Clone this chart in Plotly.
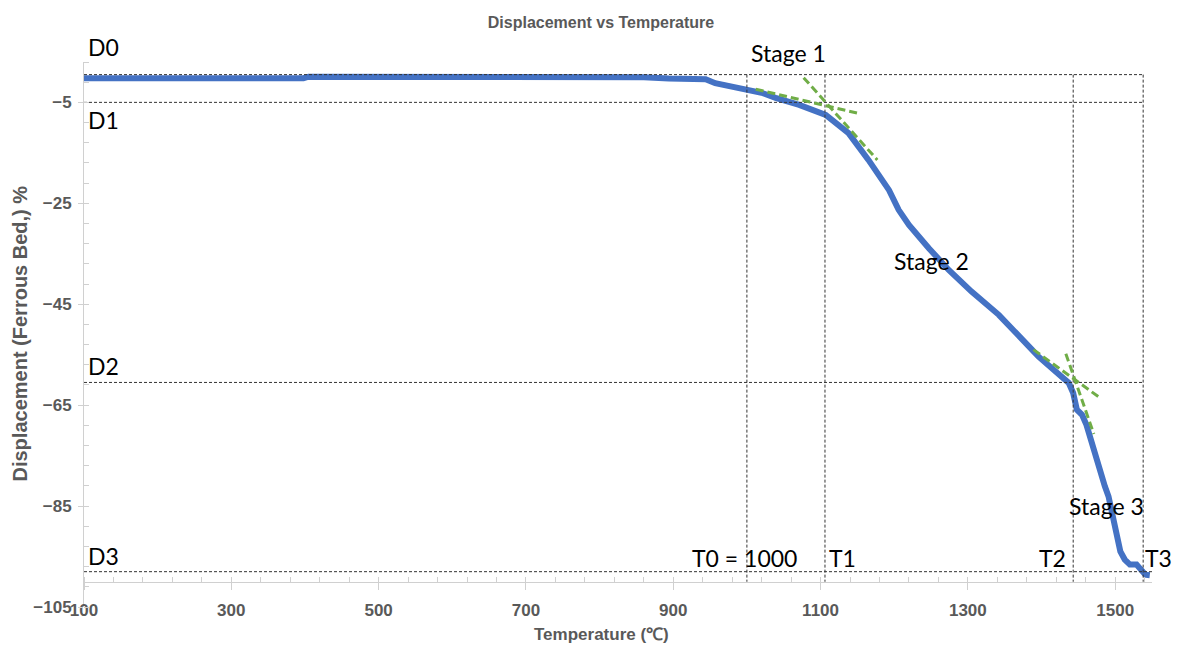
import plotly.graph_objects as go

# ---- data ----
temperature = [100, 200, 300, 398, 405, 500, 600, 700, 800, 860, 894, 944, 957,
               980, 1003, 1020, 1039, 1071, 1107, 1138, 1165, 1193, 1206, 1220,
               1247, 1274, 1305, 1342, 1387, 1396, 1437, 1443, 1448, 1455, 1461,
               1468, 1477, 1486, 1491, 1498, 1502, 1507, 1513, 1520, 1529, 1534,
               1541, 1547]
displacement = [-0.2, -0.2, -0.2, -0.2, 0.1, 0.1, 0.15, 0.15, 0.1, 0.0, -0.25,
                -0.4, -1.2, -1.8, -2.4, -3.1, -4.1, -5.5, -7.5, -11.1, -16.4,
                -22.4, -26.3, -29.3, -33.9, -38.2, -42.5, -47.1, -54.0, -55.4,
                -60.6, -62.6, -65.9, -66.9, -68.9, -72.5, -76.5, -81.1, -83.1,
                -87.7, -91.0, -94.0, -95.6, -96.6, -96.6, -97.6, -98.6, -98.7]

d_labels = ["D0", "D1", "D2", "D3"]
d_values = [0.5, -5, -60.5, -98]
t_labels = ["T0 = 1000", "T1", "T2", "T3"]
t_values = [1000, 1106, 1443, 1538]

# tangent construction lines (x pairs, y pairs)
tangent_x = [[1012, 1152], [1077, 1177], [1389, 1477], [1433, 1471]]
tangent_y = [[-2.4, -7.2], [-0.1, -16.4], [-54.0, -63.3], [-54.8, -70.7]]

stage_labels = ["Stage 1", "Stage 2", "Stage 3"]
stage_t = [1056, 1250, 1488]
stage_d = [0.5, -36.4, -84.9]   # Stage 1 sits just above the D0 line

x_range = [100, 1550]
y_range = [-105, 3]
x_cross = -100          # x axis crosses the y axis here
x_ticks = [100, 300, 500, 700, 900, 1100, 1300, 1500]
y_ticks = [-105, -85, -65, -45, -25, -5]

# ---- styles ----
BLUE = "#4472C4"
GREEN = "#70AD47"
REF = "#333333"
AXIS_GREY = "#595959"
LINE_GREY = "#D0D0D0"
TICK_FONT = dict(family="Liberation Sans", size=17, color=AXIS_GREY, weight="bold")
NOTE_FONT = dict(family="Lato", size=23, color="black")
TITLE_FONT = dict(family="Liberation Sans", size=17, color=AXIS_GREY, weight="bold")

fig = go.Figure()

fig.add_trace(go.Scatter(x=temperature, y=displacement, mode="lines",
                         line=dict(color=BLUE, width=6), showlegend=False))

# horizontal reference lines
for i, d in enumerate(d_values):
    x_end = x_range[1] if i == len(d_values) - 1 else t_values[-1]
    fig.add_trace(go.Scatter(x=[x_range[0], x_end], y=[d, d], mode="lines",
                             line=dict(color=REF, width=1, dash="3px,2px"),
                             showlegend=False, hoverinfo="skip"))
# vertical reference lines
for t in t_values:
    fig.add_trace(go.Scatter(x=[t, t], y=[d_values[0], x_cross], mode="lines",
                             line=dict(color=REF, width=1, dash="3px,2px"),
                             showlegend=False, hoverinfo="skip"))
# tangents
for xs, ys in zip(tangent_x, tangent_y):
    fig.add_trace(go.Scatter(x=xs, y=ys, mode="lines",
                             line=dict(color=GREEN, width=3, dash="8px,4px"),
                             showlegend=False, hoverinfo="skip"))

annotations = []
d_anchor = ["bottom", "top", "bottom", "bottom"]
d_yshift = [12, -2, 0, 0]
for lab, d, ya, ys in zip(d_labels, d_values, d_anchor, d_yshift):
    annotations.append(dict(x=x_range[0], y=d, text=lab, showarrow=False,
                            xanchor="left", yanchor=ya, xshift=2, yshift=ys,
                            font=NOTE_FONT))
t_anchor = ["center", "left", "right", "left"]
t_xshift = [-2, 2, -5, 0]
for lab, t, xa, xs in zip(t_labels, t_values, t_anchor, t_xshift):
    annotations.append(dict(x=t, y=d_values[-1], text=lab, showarrow=False,
                            xanchor=xa, yanchor="bottom", xshift=xs, yshift=-2,
                            font=NOTE_FONT))
s_anchor = ["bottom", "middle", "middle"]
s_yshift = [6, 0, 0]
for lab, t, d, ya, ys in zip(stage_labels, stage_t, stage_d, s_anchor, s_yshift):
    annotations.append(dict(x=t, y=d, text=lab, showarrow=False, yshift=ys,
                            xanchor="center", yanchor=ya, font=NOTE_FONT))
# axis titles (placed as in the reference)
annotations.append(dict(x=(601 - 84) / 1068, y=0, xref="paper", yref="paper",
                        text="Temperature (℃)", showarrow=False,
                        xanchor="center", yanchor="top", yshift=-16,
                        font=TITLE_FONT))
annotations.append(dict(x=0, y=0.5, xref="paper", yref="paper",
                        text="Displacement (Ferrous Bed,) %", showarrow=False,
                        textangle=-90, xanchor="center", yanchor="middle",
                        xshift=-65, yshift=1,
                        font=dict(family="Liberation Sans", size=20,
                                  color=AXIS_GREY, weight="bold")))

x_pos = (x_cross - y_range[0]) / (y_range[1] - y_range[0])

fig.update_layout(
    width=1178, height=653,
    margin=dict(l=84, r=26, t=62, b=46, autoexpand=False),
    paper_bgcolor="white", plot_bgcolor="white",
    title=dict(text="Displacement vs Temperature", x=601 / 1178, xref="container",
               xanchor="center", y=1 - 22 / 653, yref="container", yanchor="middle",
               font=dict(family="Liberation Sans", size=16, color=AXIS_GREY,
                         weight="bold")),
    xaxis=dict(range=x_range, tickvals=x_ticks, anchor="free", position=x_pos,
               automargin=False,
               showgrid=False, zeroline=False, showline=True, linecolor=LINE_GREY,
               linewidth=1, ticks="outside", ticklen=7, tickcolor=LINE_GREY,
               tickfont=TICK_FONT, ticklabelstandoff=6,
               minor=dict(dtick=40, tick0=100, ticks="inside", ticklen=5,
                          tickcolor=LINE_GREY, showgrid=False)),
    yaxis=dict(range=y_range, tickvals=y_ticks, showgrid=False, zeroline=False,
               automargin=False,
               showline=True, linecolor=LINE_GREY, linewidth=1, ticks="outside",
               ticklen=5, tickcolor=LINE_GREY, tickfont=TICK_FONT,
               ticklabelstandoff=3,
               minor=dict(dtick=4, tick0=-105, ticks="inside", ticklen=5,
                          tickcolor=LINE_GREY, showgrid=False)),
    annotations=annotations,
    showlegend=False,
)

fig.write_html("out.html", config={"displayModeBar": False},
               post_script="document.body.style.margin='0px';")
